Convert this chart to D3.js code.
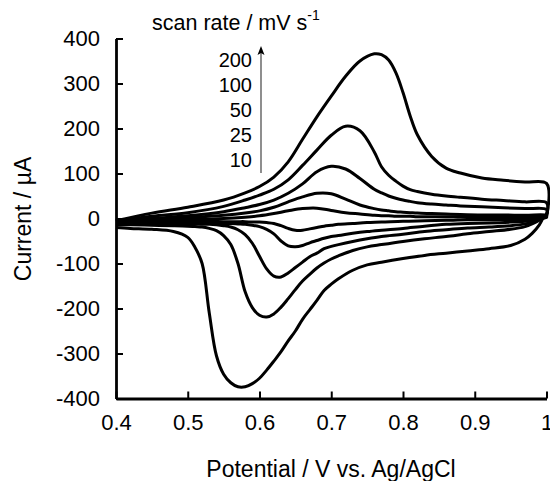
<!DOCTYPE html>
<html>
<head>
<meta charset="utf-8">
<script src="https://cdn.jsdelivr.net/npm/d3@7/dist/d3.min.js"></script>
<style>
  html, body { margin: 0; padding: 0; background: #fff; }
  svg { display: block; font-family: "Liberation Sans", Arial, sans-serif; }
</style>
</head>
<body>
<svg id="chart" width="550" height="481"></svg>
<script>
// ---- data ----
const xTicks = [0.4, 0.5, 0.6, 0.7, 0.8, 0.9, 1.0];
const xTickLabels = ["0.4", "0.5", "0.6", "0.7", "0.8", "0.9", "1"];
const yTicks = [-400, -300, -200, -100, 0, 100, 200, 300, 400];
const yTickLabels = ["-400", "-300", "-200", "-100", "0", "100", "200", "300", "400"];
const scanRates = ["200", "100", "50", "25", "10"];

// forward (anodic) sweep potentials, V
const anodicPotential = [0.40, 0.45, 0.50, 0.55, 0.58, 0.60, 0.62, 0.64, 0.66, 0.68, 0.70, 0.72, 0.74, 0.76, 0.77, 0.78, 0.79, 0.80, 0.81, 0.82, 0.84, 0.86, 0.88, 0.91, 0.94, 0.97, 1.00];
const anodic200 = [-5, 12, 25, 41, 57, 71, 92, 126, 176, 226, 272, 316, 350, 366, 364, 352, 324, 280, 228, 186, 138, 112, 101, 90, 85, 81, 78];
const anodic100 = [-6, 5, 13, 27, 41, 52, 65, 86, 118, 152, 185, 205, 195, 148, 115, 96, 83, 72, 64, 60, 54, 50, 47, 43, 40, 37, 35];
const anodic50  = [-6, 0, 6, 15, 24, 31, 41, 56, 77, 104, 116, 110, 89, 65, 57, 50, 45, 41, 38, 35, 32, 30, 28, 26, 24, 22, 20];
const anodic25  = [-5, -2, 2, 7, 12, 17, 25, 37, 48, 56, 55, 43, 30, 22, 19, 17, 15, 14, 13, 12, 11, 10, 9, 8, 8, 7, 7];
const anodic10  = [-4, -3, -2, 0, 3, 6, 11, 17, 22, 23, 18, 13, 10, 7, 6, 6, 5, 5, 5, 4, 4, 4, 4, 3, 3, 3, 3];

// reverse (cathodic) sweep potentials, V
const cathodicPotential = [1.00, 0.995, 0.99, 0.98, 0.97, 0.95, 0.92, 0.89, 0.86, 0.83, 0.80, 0.77, 0.75, 0.73, 0.71, 0.70, 0.69, 0.68, 0.67, 0.66, 0.65, 0.64, 0.63, 0.62, 0.61, 0.60, 0.59, 0.58, 0.57, 0.56, 0.55, 0.54, 0.53, 0.52, 0.51, 0.50, 0.48, 0.45, 0.42, 0.40];
const cathodic200 = [10, 0, -14, -33, -46, -60, -67, -72, -77, -82, -89, -97, -103, -115, -134, -146, -160, -182, -203, -224, -250, -272, -296, -317, -337, -355, -367, -374, -374, -365, -346, -305, -210, -100, -64, -42, -29, -24, -22, -20];
const cathodic100 = [8, 2, -4, -12, -18, -24, -29, -34, -40, -45, -51, -58, -63, -71, -83, -90, -99, -110, -124, -139, -158, -178, -197, -212, -219, -215, -198, -163, -100, -58, -38, -27, -22, -19, -18, -17, -16, -15, -14, -14];
const cathodic50  = [6, 2, -2, -8, -12, -16, -19, -21, -25, -29, -35, -40, -45, -51, -58, -62, -67, -77, -85, -97, -109, -121, -130, -128, -112, -84, -55, -36, -25, -19, -16, -14, -13, -13, -12, -12, -12, -12, -12, -12];
const cathodic25  = [4, 1, -1, -4, -6, -8, -10, -11, -13, -17, -22, -26, -29, -33, -38, -40, -44, -49, -54, -60, -63, -61, -50, -34, -24, -18, -15, -13, -12, -11, -11, -10, -10, -10, -10, -10, -10, -10, -10, -10];
const cathodic10  = [2, 1, 0, -1, -2, -2, -3, -3, -4, -5, -6, -8, -9, -11, -13, -15, -17, -20, -23, -26, -26, -22, -16, -11, -9, -8, -8, -7, -7, -7, -7, -7, -7, -7, -7, -7, -7, -7, -7, -7];

const anodicSeries = [anodic200, anodic100, anodic50, anodic25, anodic10];
const cathodicSeries = [cathodic200, cathodic100, cathodic50, cathodic25, cathodic10];

// ---- drawing ----
const svg = d3.select("#chart");
const x = d3.scaleLinear().domain([0.4, 1.0]).range([116, 546.5]);
const y = d3.scaleLinear().domain([-400, 400]).range([398.5, 38.5]);

const loops = anodicSeries.map((an, i) => {
  const pts = anodicPotential.map((v, j) => [v, an[j]]);
  const ca = cathodicSeries[i];
  return pts.concat(cathodicPotential.map((v, j) => [v, ca[j]]));
});

const line = d3.line()
  .x(d => x(d[0]))
  .y(d => y(d[1]))
  .curve(d3.curveCatmullRom.alpha(0.5));

svg.append("g").selectAll("path")
  .data(loops)
  .join("path")
  .attr("d", line)
  .attr("fill", "none")
  .attr("stroke", "#000")
  .attr("stroke-width", 3)
  .attr("stroke-linejoin", "round");

// axes
const yAxis = d3.axisLeft(y)
  .tickValues(yTicks)
  .tickFormat((d, i) => yTickLabels[i])
  .tickSizeInner(-7)
  .tickSizeOuter(0)
  .tickPadding(16);
const gy = svg.append("g").attr("transform", `translate(${x(0.4)},0)`).call(yAxis);

const xAxis = d3.axisBottom(x)
  .tickValues(xTicks)
  .tickFormat((d, i) => xTickLabels[i])
  .tickSizeInner(-7)
  .tickSizeOuter(0)
  .tickPadding(16);
const gx = svg.append("g").attr("transform", `translate(0,${y(-400)})`).call(xAxis);

[gx, gy].forEach(g => {
  g.select(".domain").attr("stroke", "#000").attr("stroke-width", 2.8);
  g.selectAll(".tick line").attr("stroke", "#000").attr("stroke-width", 2);
  g.selectAll(".tick text")
    .attr("fill", "#000")
    .style("font-family", "'Liberation Sans', Arial, sans-serif")
    .style("font-size", "22px");
});

// axis titles
svg.append("text")
  .attr("x", 331)
  .attr("y", 477)
  .attr("text-anchor", "middle")
  .style("font-size", "23px")
  .text("Potential / V vs. Ag/AgCl");

svg.append("text")
  .attr("transform", "translate(31,219) rotate(-90)")
  .attr("text-anchor", "middle")
  .style("font-size", "23px")
  .text("Current / µA");

// legend title
const lt = svg.append("text")
  .attr("x", 152)
  .attr("y", 30)
  .style("font-size", "21.5px");
lt.append("tspan").text("scan rate / mV s");
lt.append("tspan").attr("dy", -10).style("font-size", "14px").text("-1");

// scan rate labels
svg.append("g").selectAll("text")
  .data(scanRates)
  .join("text")
  .attr("x", 252)
  .attr("y", (d, i) => 67 + i * 25)
  .attr("text-anchor", "end")
  .style("font-size", "20px")
  .text(d => d);

// arrow
svg.append("line")
  .attr("x1", 261).attr("x2", 261)
  .attr("y1", 173).attr("y2", 52)
  .attr("stroke", "#444")
  .attr("stroke-width", 1.2);
svg.append("path")
  .attr("d", "M261,46 L257.5,55 L261,53 L264.5,55 Z")
  .attr("fill", "#000");
</script>
</body>
</html>
